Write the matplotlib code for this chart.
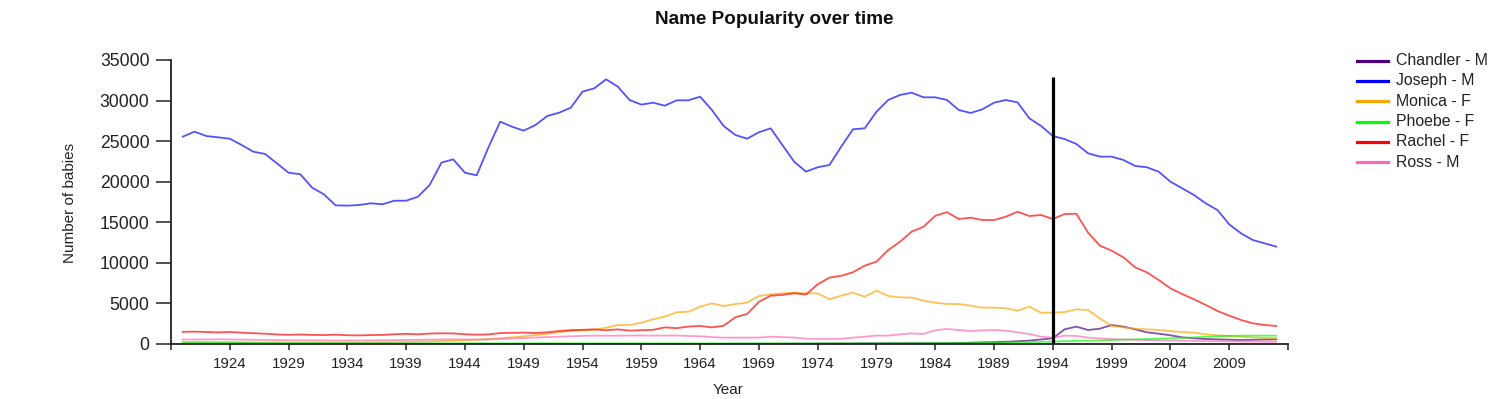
"""
Name popularity over time for the six Friends names, 1920-2013.
Vertical marker at 1994 (show premiere).
"""
import numpy as np
import matplotlib
matplotlib.use('Agg')
import matplotlib.pyplot as plt
from matplotlib.lines import Line2D

plt.rcParams['font.family'] = ['Liberation Sans', 'DejaVu Sans']

years = np.arange(1920, 2014)

chandler = [
    10, 10, 10, 10, 10, 10, 10, 10, 10, 10,
    10, 10, 10, 10, 10, 10, 10, 10, 10, 10,
    10, 10, 10, 10, 10, 10, 10, 10, 10, 10,
    10, 10, 10, 10, 10, 10, 10, 10, 10, 10,
    10, 10, 10, 10, 10, 10, 15, 20, 20, 25,
    30, 35, 40, 45, 50, 60, 65, 70, 80, 85,
    90, 95, 100, 100, 100, 100, 130, 160, 200, 230,
    280, 340, 420, 560, 700, 1810, 2140, 1725, 1890, 2340,
    2140, 1810, 1440, 1270, 1070, 820, 700, 620, 570, 530,
    490, 520, 550, 570,
]
joseph = [
    25550, 26170, 25630, 25470, 25300, 24530, 23700, 23420, 22270, 21110,
    20920, 19270, 18450, 17090, 17050, 17130, 17340, 17220, 17660, 17660,
    18150, 19600, 22350, 22760, 21110, 20790, 24240, 27400, 26780, 26290,
    26990, 28100, 28500, 29120, 31100, 31510, 32620, 31720, 30070, 29500,
    29740, 29370, 30030, 30030, 30480, 28840, 26870, 25760, 25300, 26090,
    26580, 24520, 22470, 21240, 21780, 22060, 24320, 26460, 26580, 28630,
    30070, 30690, 30970, 30400, 30400, 30070, 28840, 28470, 28920, 29740,
    30070, 29780, 27810, 26870, 25630, 25260, 24650, 23500, 23090, 23090,
    22680, 21940, 21780, 21240, 20000, 19190, 18360, 17340, 16510, 14750,
    13640, 12820, 12410, 12000,
]
monica = [
    250, 250, 240, 230, 230, 220, 210, 200, 200, 190,
    190, 180, 180, 180, 190, 200, 210, 220, 240, 260,
    290, 320, 360, 400, 450, 530, 620, 720, 820, 950,
    1100, 1250, 1450, 1640, 1700, 1760, 2000, 2340, 2340, 2630,
    3040, 3370, 3900, 3980, 4600, 5010, 4680, 4930, 5090, 5920,
    6120, 6240, 6330, 6240, 6240, 5510, 5960, 6330, 5830, 6570,
    5920, 5750, 5720, 5340, 5090, 4930, 4930, 4720, 4480, 4480,
    4400, 4110, 4600, 3860, 3860, 3940, 4270, 4190, 3160, 2220,
    2050, 1890, 1810, 1725, 1600, 1480, 1400, 1190, 1070, 990,
    900, 820, 760, 720,
]
phoebe = [
    150, 150, 145, 140, 140, 135, 130, 125, 120, 120,
    115, 110, 110, 105, 100, 100, 95, 95, 90, 90,
    90, 85, 85, 80, 80, 80, 80, 80, 80, 80,
    80, 80, 80, 80, 80, 80, 80, 80, 80, 80,
    75, 75, 75, 75, 75, 70, 70, 70, 70, 70,
    70, 70, 70, 70, 70, 70, 70, 70, 70, 70,
    80, 80, 85, 90, 95, 100, 110, 120, 135, 150,
    170, 190, 220, 260, 300, 350, 380, 410, 450, 490,
    530, 570, 610, 650, 700, 760, 820, 880, 950, 1000,
    1020, 1030, 1030, 1030,
]
rachel = [
    1500, 1520, 1480, 1430, 1480, 1400, 1330, 1270, 1180, 1130,
    1170, 1120, 1100, 1150, 1080, 1060, 1100, 1120, 1200, 1250,
    1200, 1280, 1320, 1300, 1200, 1150, 1180, 1350, 1380, 1400,
    1350, 1450, 1600, 1700, 1750, 1800, 1700, 1800, 1650, 1700,
    1750, 2050, 1950, 2150, 2220, 2050, 2250, 3300, 3700, 5200,
    5950, 6050, 6250, 6100, 7350, 8180, 8400, 8850, 9650, 10150,
    11580, 12600, 13850, 14450, 15800, 16250, 15400, 15570, 15280, 15280,
    15690, 16300, 15770, 15900, 15400, 16020, 16050, 13720, 12120, 11500,
    10680, 9450, 8830, 7890, 6860, 6160, 5510, 4810, 4070, 3490,
    2960, 2550, 2340, 2220,
]
ross = [
    550, 560, 560, 580, 560, 540, 520, 500, 480, 470,
    460, 450, 440, 430, 430, 440, 450, 460, 480, 500,
    520, 540, 560, 580, 560, 540, 560, 620, 680, 740,
    800, 850, 900, 950, 1000, 1030, 1030, 1030, 1030, 1050,
    1030, 1030, 1050, 990, 950, 850, 780, 780, 780, 800,
    900, 850, 800, 650, 620, 620, 640, 780, 900, 1030,
    1030, 1190, 1310, 1230, 1700, 1850, 1720, 1600, 1680, 1720,
    1640, 1440, 1230, 900, 780, 1030, 990, 780, 700, 600,
    560, 520, 490, 460, 430, 400, 380, 360, 340, 320,
    300, 290, 280, 270,
]

labels = ['Chandler - M', 'Joseph - M', 'Monica - F', 'Phoebe - F', 'Rachel - F', 'Ross - M']
colors = ['#4b0082', '#0000ff', '#ffa500', '#00ff00', '#ff0000', '#ff69b4']
series = [chandler, joseph, monica, phoebe, rachel, ross]

marker_year = 1994
marker_top = 32900

fig = plt.figure(figsize=(15.05, 3.99), dpi=100)
ax = fig.add_axes([171 / 1505, 1 - 344 / 399, (1288 - 171) / 1505, (344 - 60) / 399])

for vals, c in zip(series, colors):
    ax.plot(years, vals, color=c, lw=1.3, alpha=0.68)

ax.vlines(marker_year, 0, marker_top, color='black', lw=2.3)

ax.set_xlim(1919, 2014)
ax.set_ylim(0, 35000)
ax.set_xticks(np.arange(1924, 2010, 5))
ax.set_xticks([1919, 2014], minor=True)
ax.set_yticks(np.arange(0, 35001, 5000))

for side in ['top', 'right']:
    ax.spines[side].set_visible(False)
for side in ['left', 'bottom']:
    ax.spines[side].set_color('#222222')
    ax.spines[side].set_linewidth(1.3)

ax.tick_params(axis='y', length=11, width=1.1, color='#222222', pad=4.5,
               labelsize=12.7, labelcolor='#222222')
ax.tick_params(axis='x', which='both', length=4.5, width=1.1, color='#222222', pad=5,
               labelsize=10.8, labelcolor='#222222')

fig.text(69.5 / 1505, 1 - 203 / 399, 'Number of babies', rotation=90,
         ha='center', va='center', fontsize=11, color='#222222')
fig.text(728 / 1505, 1 - 390 / 399, 'Year', ha='center', va='center',
         fontsize=11, color='#222222')
fig.text(774 / 1505, 1 - 19 / 399, 'Name Popularity over time', ha='center',
         va='center', fontsize=13.6, fontweight='bold', color='#111111')

# legend drawn by hand to sit exactly where the original one is
for i, (lab, c) in enumerate(zip(labels, colors)):
    y = 1 - (60.7 + i * 20.3) / 399
    fig.add_artist(Line2D([1357 / 1505, 1388 / 1505], [y, y], color=c, lw=2.3,
                          transform=fig.transFigure))
    fig.text(1396.5 / 1505, y, lab, ha='left', va='center', fontsize=11.4,
             color='#222222')

fig.savefig('out.png', dpi=100)
